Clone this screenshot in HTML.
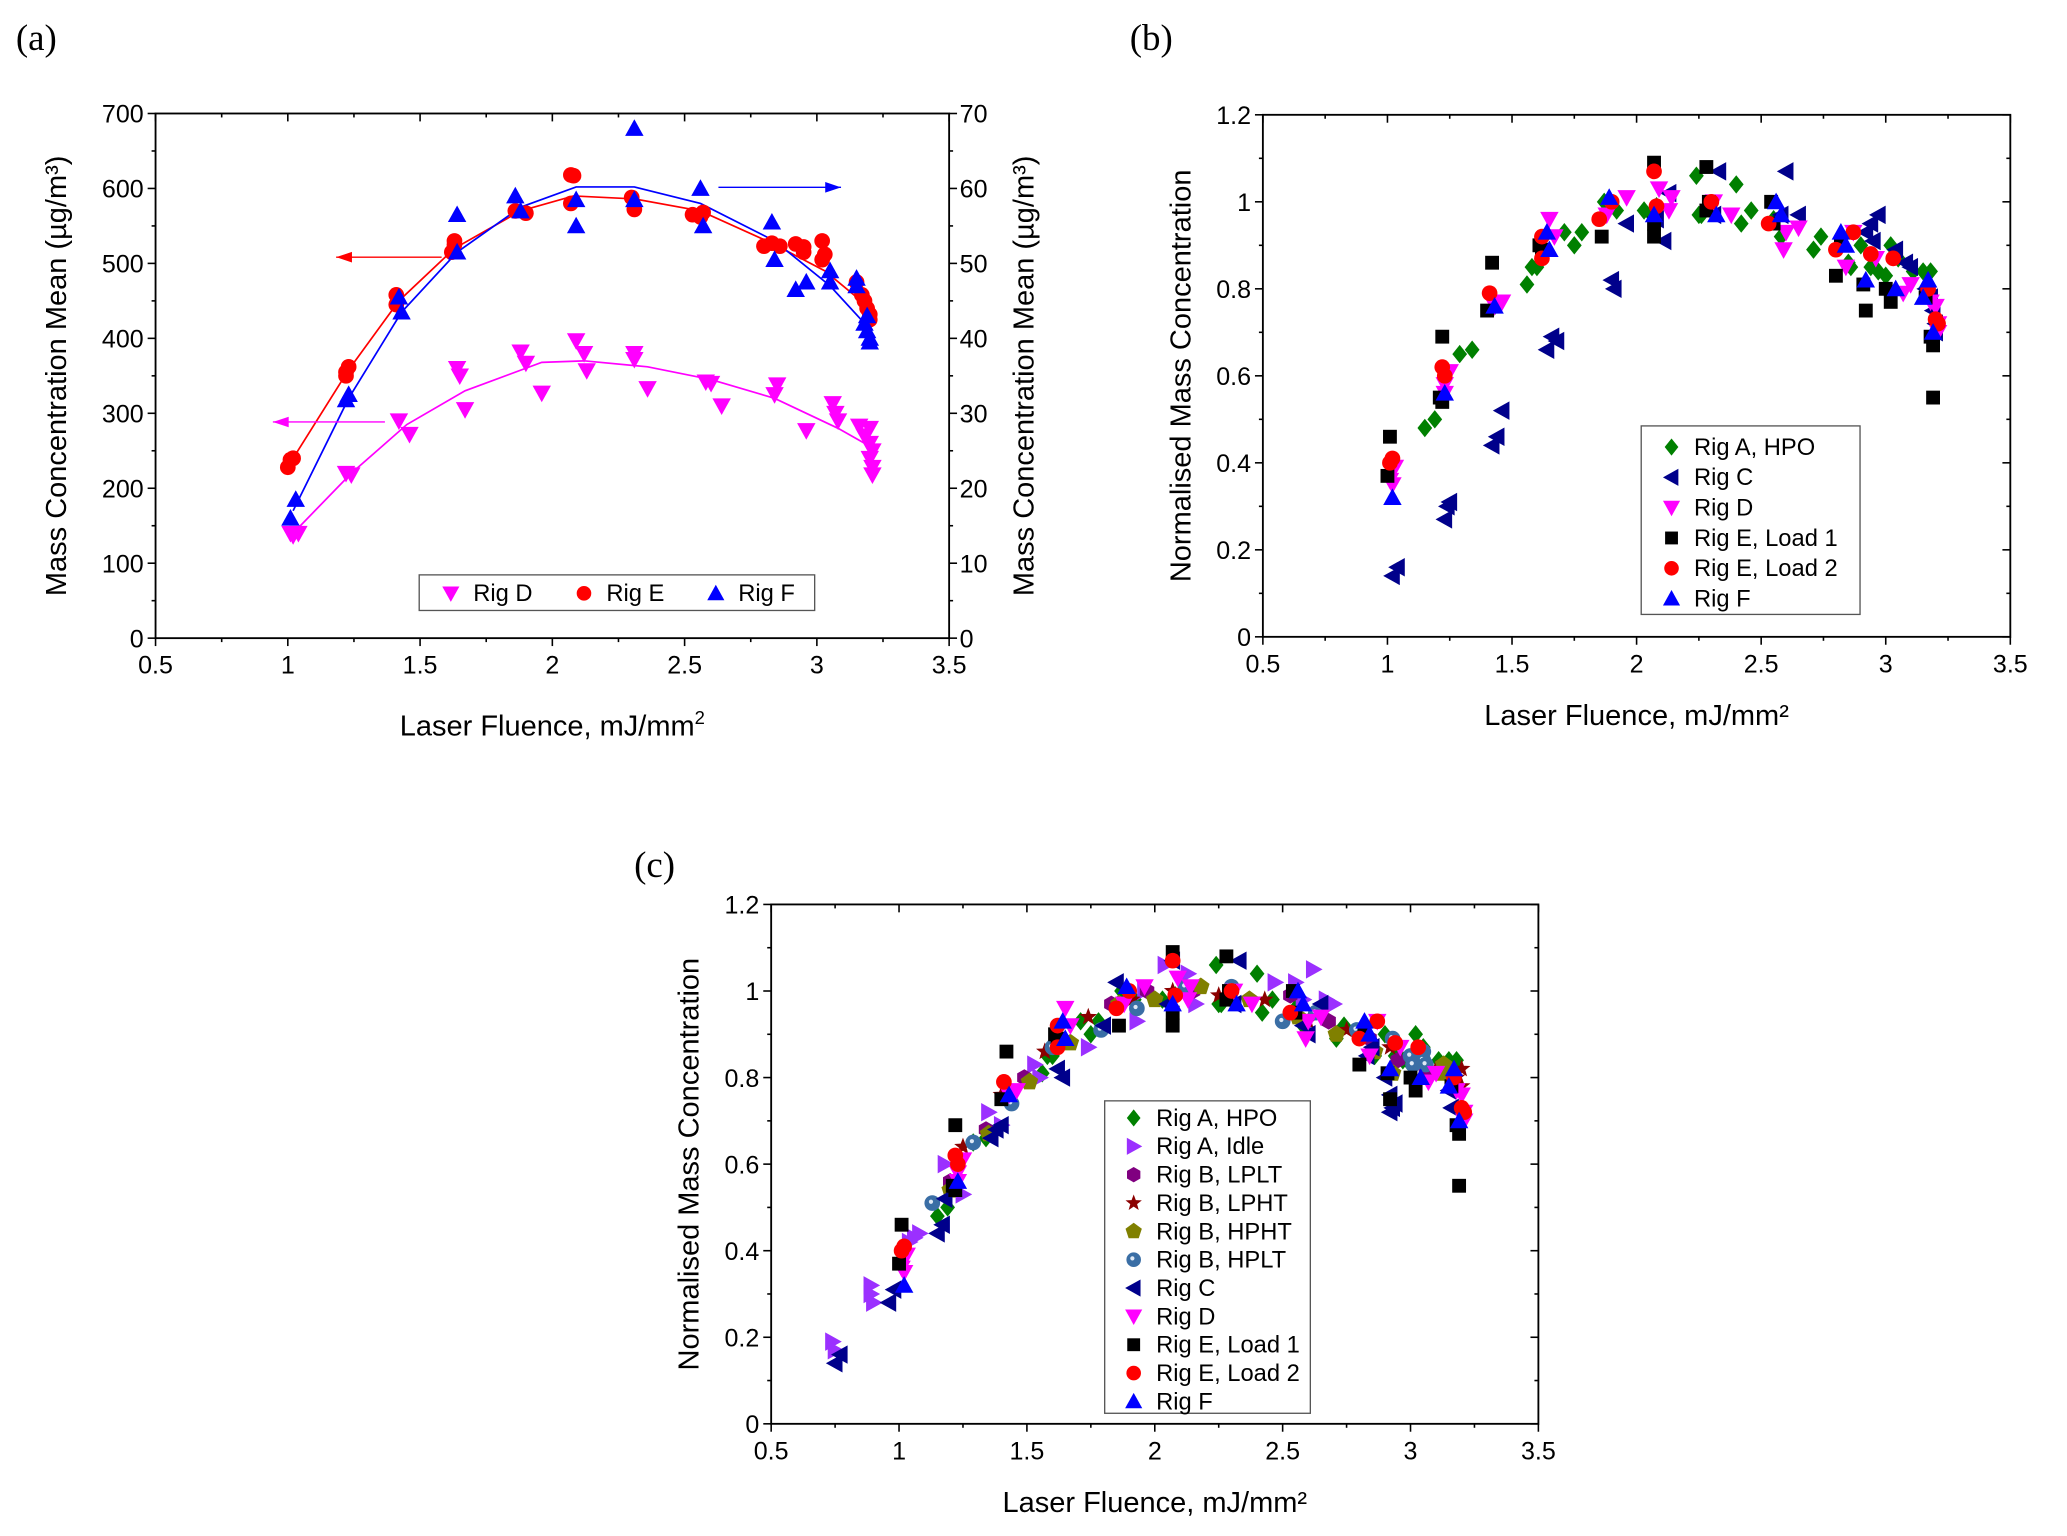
<!DOCTYPE html>
<html><head><meta charset="utf-8"><style>
html,body{margin:0;padding:0;background:#fff}
svg{display:block}
text{font-family:"Liberation Sans",Arial,sans-serif}
</style></head><body>
<svg id="fig" xmlns="http://www.w3.org/2000/svg" width="2067" height="1536" viewBox="0 0 1568 1165">
<rect width="1568" height="1165" fill="#fff"/>
<text x="12" y="38" font-size="28" style="font-family:'Liberation Serif',serif">(a)</text>
<text x="857" y="38" font-size="28" style="font-family:'Liberation Serif',serif">(b)</text>
<text x="481" y="665" font-size="28" style="font-family:'Liberation Serif',serif">(c)</text>
</svg>
<script>
// ---------- Panel A data ----------
const aEx=[1.0,1.02,1.01,1.22,1.23,1.22,1.41,1.41,1.62,1.63,1.63,1.86,1.9,2.07,2.08,2.07,2.3,2.31,2.53,2.57,2.56,2.8,2.83,2.86,2.92,2.95,2.95,3.02,3.03,3.02,3.15,3.17,3.18,3.19,3.2,3.2];
const aEy=[228,240,238,355,362,350,458,445,515,525,530,570,567,618,617,580,588,572,565,568,562,523,527,523,526,522,515,530,512,505,475,458,450,440,432,425];
const aElx=[1.02,1.23,1.42,1.63,1.88,2.08,2.31,2.56,2.83,3.03,3.15,3.2];
const aEly=[240,358,450,520,570,590,586,570,527,490,455,428];
const aFx=[1.01,1.03,1.22,1.23,1.42,1.43,1.64,1.64,1.86,1.88,2.09,2.09,2.31,2.31,2.56,2.57,2.83,2.84,2.92,2.96,3.05,3.05,3.15,3.15,3.18,3.19,3.2,3.2,3.19];
const aFy=[16,18.5,31.8,32.5,45.5,43.5,56.5,51.5,59,57,58.5,55,68,58.5,60,55,55.5,50.5,46.5,47.5,49,47.5,48,47,42,41,40,39.5,43];
const aFlx=[1.02,1.23,1.43,1.64,1.88,2.09,2.31,2.56,2.84,3.05,3.18];
const aFly=[17,32,43.5,51.5,57.5,60.2,60.2,58,53,47,42];
const aDx=[1.01,1.02,1.04,1.22,1.24,1.42,1.46,1.64,1.65,1.67,1.88,1.9,1.96,2.09,2.12,2.13,2.31,2.31,2.36,2.58,2.6,2.64,2.84,2.85,2.96,3.06,3.07,3.08,3.16,3.18,3.2,3.2,3.21,3.2,3.21,3.21];
const aDy=[140,137,140,220,218,290,272,360,350,305,382,367,327,397,380,357,380,372,333,342,340,310,325,338,277,313,300,290,283,270,280,260,250,240,228,218];
const aDlx=[1.02,1.24,1.45,1.67,1.96,2.12,2.36,2.6,2.84,2.96,3.08,3.18];
const aDly=[140,220,285,330,368,370,362,345,320,300,280,260];
// ---------- Panel B data ----------
const bAHx=[1.15,1.19,1.29,1.34,1.43,1.56,1.58,1.6,1.71,1.75,1.78,1.87,1.92,2.03,2.06,2.08,2.24,2.25,2.26,2.4,2.42,2.46,2.55,2.58,2.71,2.74,2.85,2.86,2.9,2.94,2.97,3.0,3.02,3.05,3.11,3.15,3.18];
const bAHy=[0.48,0.5,0.65,0.66,0.76,0.81,0.85,0.85,0.93,0.9,0.93,1.0,0.98,0.98,0.97,0.99,1.06,0.97,0.97,1.04,0.95,0.98,0.96,0.92,0.89,0.92,0.86,0.85,0.9,0.85,0.84,0.83,0.9,0.87,0.84,0.84,0.84];
const bCx=[1.02,1.04,1.23,1.24,1.25,1.42,1.44,1.46,1.64,1.66,1.68,1.9,1.91,1.96,2.08,2.11,2.13,2.33,2.31,2.6,2.58,2.65,2.92,2.94,2.97,2.95,3.04,3.08,3.1,3.16,3.18,3.19,3.2,3.2];
const bCy=[0.14,0.16,0.27,0.3,0.31,0.44,0.46,0.52,0.66,0.69,0.68,0.82,0.8,0.95,0.96,0.91,1.02,1.07,0.97,1.07,0.97,0.97,0.93,0.95,0.97,0.91,0.89,0.86,0.85,0.8,0.78,0.75,0.72,0.7];
const bDx=[1.01,1.02,1.03,1.23,1.23,1.25,1.43,1.46,1.65,1.67,1.88,1.96,2.09,2.13,2.14,2.31,2.38,2.59,2.6,2.65,2.84,2.87,2.96,3.07,3.1,3.18,3.2,3.21,3.21];
const bDy=[0.36,0.35,0.39,0.56,0.58,0.61,0.76,0.77,0.96,0.92,0.97,1.01,1.03,0.98,1.01,1.0,0.97,0.89,0.93,0.94,0.85,0.93,0.87,0.79,0.81,0.77,0.76,0.72,0.7];
const bE1x=[1.0,1.01,1.21,1.22,1.22,1.4,1.42,1.61,1.62,1.86,2.07,2.07,2.07,2.28,2.29,2.28,2.54,2.55,2.8,2.82,2.91,2.92,3.0,3.02,3.18,3.19,3.19,3.16];
const bE1y=[0.37,0.46,0.55,0.54,0.69,0.75,0.86,0.9,0.89,0.92,1.09,0.95,0.92,1.08,1.0,0.98,1.0,0.95,0.83,0.9,0.81,0.75,0.8,0.77,0.69,0.67,0.55,0.78];
const bE2x=[1.01,1.02,1.22,1.23,1.41,1.62,1.62,1.85,1.9,2.07,2.08,2.3,2.53,2.8,2.87,2.94,3.03,3.17,3.2,3.21];
const bE2y=[0.4,0.41,0.62,0.6,0.79,0.92,0.87,0.96,1.0,1.07,0.99,1.0,0.95,0.89,0.93,0.88,0.87,0.8,0.73,0.72];
const bFx=[1.02,1.23,1.43,1.64,1.65,1.89,2.07,2.32,2.56,2.58,2.82,2.84,2.92,3.04,3.15,3.17,3.19];
const bFy=[0.32,0.56,0.76,0.93,0.89,1.01,0.97,0.97,1.0,0.97,0.93,0.9,0.82,0.8,0.78,0.82,0.7];
// ---------- Panel C extra data ----------
const cCx=[0.75,0.77,0.96,0.98,1.15,1.17,1.18,1.36,1.4,1.38,1.62,1.64,1.8,1.85,2.07,2.05,2.33,2.31,2.58,2.6,2.65,2.83,2.85,2.9,2.92,2.93,2.92,2.94,3.15,3.16];
const cCy=[0.14,0.16,0.28,0.31,0.44,0.46,0.52,0.66,0.69,0.68,0.82,0.8,0.92,1.02,1.07,0.97,1.07,0.97,0.92,0.9,0.97,0.85,0.87,0.8,0.76,0.73,0.72,0.74,0.77,0.73];
const cAIx=[0.74,0.75,0.89,0.9,0.89,1.04,1.06,1.08,1.18,1.22,1.25,1.35,1.4,1.53,1.55,1.74,1.93,1.96,2.04,2.13,2.16,2.47,2.55,2.62,2.58,2.67,2.7];
const cAIy=[0.19,0.17,0.3,0.28,0.32,0.42,0.43,0.44,0.6,0.55,0.53,0.72,0.69,0.83,0.8,0.87,0.93,1.0,1.06,1.04,0.97,1.02,1.02,1.05,0.98,0.98,0.97];
const cLPLTx=[1.2,1.34,1.49,1.83,1.97,2.15,2.53,2.68,2.84,2.95,3.06];
const cLPLTy=[0.56,0.68,0.8,0.97,1.0,1.0,0.99,0.93,0.89,0.84,0.81];
const cLPHTx=[1.25,1.4,1.57,1.74,1.91,2.07,2.25,2.43,2.6,2.75,2.92,3.1,3.18,3.2,3.2,3.17];
const cLPHTy=[0.64,0.76,0.86,0.94,0.98,1.0,0.99,0.98,0.93,0.91,0.87,0.82,0.8,0.82,0.78,0.79];
const cHPHTx=[1.2,1.35,1.51,1.67,1.86,2.0,2.18,2.37,2.56,2.71,2.86,2.93,3.12,3.13,3.14];
const cHPHTy=[0.54,0.67,0.79,0.88,0.97,0.98,1.01,0.98,0.94,0.9,0.86,0.81,0.81,0.83,0.82];
const cHPLTx=[1.13,1.29,1.44,1.6,1.79,1.93,2.12,2.3,2.5,2.63,2.79,2.93,3.0,3.05,3.05,3.06,3.01];
const cHPLTy=[0.51,0.65,0.74,0.87,0.91,0.96,1.01,1.01,0.93,0.95,0.91,0.89,0.85,0.86,0.84,0.83,0.83];
const xTicks=["0.5","1","1.5","2","2.5","3","3.5"];
const aYTicks=["0","100","200","300","400","500","600","700"];
const aY2Ticks=["0","10","20","30","40","50","60","70"];
const nYTicks=["0","0.2","0.4","0.6","0.8","1","1.2"];

const NS="http://www.w3.org/2000/svg";
const svg=document.getElementById('fig');
function el(tag,attrs,parent){const e=document.createElementNS(NS,tag);for(const k in attrs)e.setAttribute(k,attrs[k]);(parent||svg).appendChild(e);return e;}
const TF=19, AF=22, LF=18, MS=7;

function makeAxes(p,name){
  const g=el('g',{});
  
  
  el('rect',{x:p.x0,y:p.yT,width:p.x1-p.x0,height:p.yB-p.yT,fill:'none',stroke:'#000','stroke-width':1.4},g);
  for(let v=0.5;v<=3.5001;v+=0.25){
    const X=p.sx(v);const major=Math.abs(v*2-Math.round(v*2))<1e-6;
    const L=major?6:3;
    el('line',{x1:X,y1:p.yB,x2:X,y2:p.yB+L,stroke:'#000','stroke-width':1.2},g);
    el('line',{x1:X,y1:p.yT,x2:X,y2:p.yT+L,stroke:'#000','stroke-width':1.2},g);
  }
  xTicks.forEach(t=>{const X=p.sx(parseFloat(t));
    const tx=el('text',{x:X,y:p.yB+27,'font-size':TF,'text-anchor':'middle'},g);tx.textContent=t;
    
    });
  const n=p.yTicks.length-1;
  for(let i=0;i<=2*n;i++){
    const v=p.ymin+(p.ymax-p.ymin)*i/(2*n);const Y=p.sy(v);const L=i%2==0?6:3;
    el('line',{x1:p.x0,y1:Y,x2:p.x0-L,y2:Y,stroke:'#000','stroke-width':1.2},g);
    if(p.y2)el('line',{x1:p.x1,y1:Y,x2:p.x1+L,y2:Y,stroke:'#000','stroke-width':1.2},g);
    else el('line',{x1:p.x1,y1:Y,x2:p.x1-L,y2:Y,stroke:'#000','stroke-width':1.2},g);
  }
  p.yTicks.forEach((t,i)=>{const v=p.ymin+(p.ymax-p.ymin)*i/n;const Y=p.sy(v);
    const tx=el('text',{x:p.x0-9,y:Y+7,'font-size':TF,'text-anchor':'end'},g);tx.textContent=t;
    
    });
  if(p.y2){p.y2.forEach((t,i)=>{const Y=p.sy(p.ymin+(p.ymax-p.ymin)*i/n);
    const tx=el('text',{x:p.x1+8,y:Y+7,'font-size':TF,'text-anchor':'start'},g);tx.textContent=t;
    
    });}
  const xt=el('text',{x:(p.x0+p.x1)/2,y:p.yB+p.xtOff,'font-size':AF,'text-anchor':'middle'},g);
  xt.innerHTML=p.xTitle;
  
  
  const yt=el('text',{x:0,y:0,'font-size':AF,'text-anchor':'middle',transform:`translate(${p.ytX},${(p.yT+p.yB)/2}) rotate(-90)`},g);
  yt.textContent=p.yTitle;
  
  
  if(p.y2Title){const y2=el('text',{x:0,y:0,'font-size':AF,'text-anchor':'middle',transform:`translate(${p.x1+64},${(p.yT+p.yB)/2}) rotate(-90)`},g);
    y2.textContent=p.y2Title;
    
    }
}

function marker(g,type,X,Y,c,s){
  s=s||MS;
  if(type==='circle')el('circle',{cx:X,cy:Y,r:s*0.85,fill:c},g);
  else if(type==='sphere'){el('circle',{cx:X,cy:Y,r:s*0.85,fill:c},g);el('circle',{cx:X-1,cy:Y-1,r:1.6,fill:'#dfe9f5'},g);}
  else if(type==='up')el('polygon',{points:`${X},${Y-s} ${X-s},${Y+s*0.8} ${X+s},${Y+s*0.8}`,fill:c},g);
  else if(type==='down')el('polygon',{points:`${X},${Y+s} ${X-s},${Y-s*0.8} ${X+s},${Y-s*0.8}`,fill:c},g);
  else if(type==='left')el('polygon',{points:`${X-s},${Y} ${X+s*0.8},${Y-s} ${X+s*0.8},${Y+s}`,fill:c},g);
  else if(type==='right')el('polygon',{points:`${X+s},${Y} ${X-s*0.8},${Y-s} ${X-s*0.8},${Y+s}`,fill:c},g);
  else if(type==='square')el('rect',{x:X-s*0.75,y:Y-s*0.75,width:s*1.5,height:s*1.5,fill:c},g);
  else if(type==='diamond')el('polygon',{points:`${X},${Y-s} ${X+s*0.8},${Y} ${X},${Y+s} ${X-s*0.8},${Y}`,fill:c},g);
  else if(type==='hex'){let pts=[];for(let i=0;i<6;i++){const a=Math.PI/6+i*Math.PI/3;pts.push((X+s*0.9*Math.cos(a))+','+(Y+s*0.9*Math.sin(a)));}el('polygon',{points:pts.join(' '),fill:c},g);}
  else if(type==='pent'){let pts=[];for(let i=0;i<5;i++){const a=-Math.PI/2+i*2*Math.PI/5;pts.push((X+s*Math.cos(a))+','+(Y+s*Math.sin(a)));}el('polygon',{points:pts.join(' '),fill:c},g);}
  else if(type==='star'){let pts=[];for(let i=0;i<10;i++){const a=-Math.PI/2+i*Math.PI/5;const r=i%2?s*0.42:s;pts.push((X+r*Math.cos(a))+','+(Y+r*Math.sin(a)));}el('polygon',{points:pts.join(' '),fill:c},g);}
}
function series(p,xs,ys,type,c,name,sy){
  const g=el('g',{});
  
  
  const fy=sy||p.sy;
  xs.forEach((x,i)=>marker(g,type,p.sx(x),fy(ys[i]),c));
}
function line(p,xs,ys,c,name,sy){
  const fy=sy||p.sy;
  const pl=el('polyline',{points:xs.map((x,i)=>p.sx(x)+','+fy(ys[i])).join(' '),fill:'none',stroke:c,'stroke-width':1.3});
  
  
}
function legend(x,y,w,h,items,name){
  const g=el('g',{});
  
  
  el('rect',{x:x,y:y,width:w,height:h,fill:'#fff',stroke:'#555','stroke-width':1},g);
  items.forEach(it=>{
    const e=el('g',{},g);
    
    
    marker(e,it[0],it[2],it[3],it[1],6.5);
    const t=el('text',{x:it[2]+17,y:it[3]+6,'font-size':LF},e);t.textContent=it[4];
  });
}
function mkPanel(o){
  o.sx=v=>o.x0+(v-0.5)/3*(o.x1-o.x0);
  o.sy=v=>o.yB-(v-o.ymin)/(o.ymax-o.ymin)*(o.yB-o.yT);
  return o;
}

// ----- Panel A -----
const A=mkPanel({x0:118,x1:720,yT:86,yB:484,ymin:0,ymax:700,yTicks:aYTicks,y2:aY2Ticks,
  xTitle:'Laser Fluence, mJ/mm<tspan dy="-9" font-size="14">2</tspan>',yTitle:'Mass Concentration Mean (µg/m³)',y2Title:'Mass Concentration Mean (µg/m³)',ytX:50,xtOff:74});
makeAxes(A,'panel-a');
const aSy2=v=>A.yB-v/70*(A.yB-A.yT);
line(A,aElx,aEly,'#ff0000','rig-e-fit-line');
line(A,aFlx,aFly,'#0000ff','rig-f-fit-line',aSy2);
line(A,aDlx,aDly,'#ff00ff','rig-d-fit-line');
series(A,aDx,aDy,'down','#ff00ff','rig-d-points');
series(A,aEx,aEy,'circle','#ff0000','rig-e-points');
series(A,aFx,aFy,'up','#0000ff','rig-f-points',aSy2);
function arrow(x1,x2,y,c,name){const g=el('g',{});
  
  
  el('line',{x1:x1,y1:y,x2:x2,y2:y,stroke:c,'stroke-width':1},g);
  const d=x2>x1?1:-1;
  el('polygon',{points:`${x2},${y} ${x2-d*12},${y-4} ${x2-d*12},${y+4}`,fill:c},g);}
arrow(335,255,195,'#ff0000','rig-e-axis-arrow');
arrow(292,207,320,'#ff00ff','rig-d-axis-arrow');
arrow(545,638,142,'#0000ff','rig-f-axis-arrow');
legend(318,436,300,27,[['down','#ff00ff',342,450,'Rig D'],['circle','#ff0000',443,450,'Rig E'],['up','#0000ff',543,450,'Rig F']],'panel-a-legend');

// ----- Panel B -----
const B=mkPanel({x0:958,x1:1525,yT:87,yB:483,ymin:0,ymax:1.2,yTicks:nYTicks,
  xTitle:'Laser Fluence, mJ/mm²',yTitle:'Normalised Mass Concentration',ytX:903,xtOff:67});
makeAxes(B,'panel-b');
series(B,bAHx,bAHy,'diamond','#008000','rig-a-hpo-points');
series(B,bCx,bCy,'left','#00008b','rig-c-points');
series(B,bDx,bDy,'down','#ff00ff','rig-d-points');
series(B,bE1x,bE1y,'square','#000000','rig-e-load1-points');
series(B,bE2x,bE2y,'circle','#ff0000','rig-e-load2-points');
series(B,bFx,bFy,'up','#0000ff','rig-f-points');
legend(1245,323,166,143,[['diamond','#008000',1268,339,'Rig A, HPO'],['left','#00008b',1268,362,'Rig C'],['down','#ff00ff',1268,385,'Rig D'],['square','#000',1268,408,'Rig E, Load 1'],['circle','#ff0000',1268,431,'Rig E, Load 2'],['up','#0000ff',1268,454,'Rig F']],'panel-b-legend');

// ----- Panel C -----
const C=mkPanel({x0:585,x1:1167,yT:686,yB:1080,ymin:0,ymax:1.2,yTicks:nYTicks,
  xTitle:'Laser Fluence, mJ/mm²',yTitle:'Normalised Mass Concentration',ytX:530,xtOff:67});
makeAxes(C,'panel-c');
series(C,bAHx,bAHy,'diamond','#008000','rig-a-hpo-points');
series(C,cAIx,cAIy,'right','#9b30ff','rig-a-idle-points');
series(C,cLPLTx,cLPLTy,'hex','#800080','rig-b-lplt-points');
series(C,cLPHTx,cLPHTy,'star','#8b0000','rig-b-lpht-points');
series(C,cHPHTx,cHPHTy,'pent','#808000','rig-b-hpht-points');
series(C,cHPLTx,cHPLTy,'sphere','#3a6ea5','rig-b-hplt-points');
series(C,cCx,cCy,'left','#00008b','rig-c-points');
series(C,bDx,bDy,'down','#ff00ff','rig-d-points');
series(C,bE1x,bE1y,'square','#000000','rig-e-load1-points');
series(C,bE2x,bE2y,'circle','#ff0000','rig-e-load2-points');
series(C,bFx,bFy,'up','#0000ff','rig-f-points');
const cl=[['diamond','#008000','Rig A, HPO'],['right','#9b30ff','Rig A, Idle'],['hex','#800080','Rig B, LPLT'],['star','#8b0000','Rig B, LPHT'],['pent','#808000','Rig B, HPHT'],['sphere','#3a6ea5','Rig B, HPLT'],['left','#00008b','Rig C'],['down','#ff00ff','Rig D'],['square','#000','Rig E, Load 1'],['circle','#ff0000','Rig E, Load 2'],['up','#0000ff','Rig F']];
legend(838,835,156,237,cl.map((d,i)=>[d[0],d[1],860,848+i*21.5,d[2]]),'panel-c-legend');
</script>
</body></html>
